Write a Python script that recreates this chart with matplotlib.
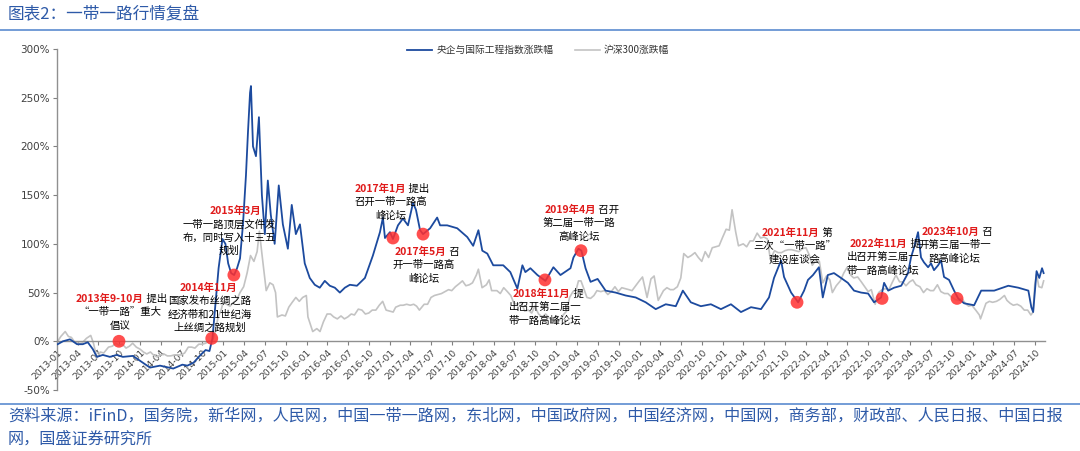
import matplotlib
matplotlib.use("Agg")
import matplotlib.pyplot as plt
import numpy as np
import pandas as pd

plt.rcParams['font.family'] = ['Noto Sans CJK SC', 'DejaVu Sans']

# ---------------- data ----------------
blue_dates = ['2013-01-04','2013-01-27','2013-02-27','2013-03-30','2013-04-24','2013-05-16','2013-06-07','2013-06-25',
 '2013-07-21','2013-08-21','2013-09-20','2013-10-17','2013-11-30','2013-12-31','2014-02-13','2014-03-29','2014-05-26',
 '2014-07-05','2014-07-27','2014-08-23','2014-09-23','2014-10-15','2014-11-01','2014-11-14','2014-11-28','2014-12-11',
 '2014-12-28','2015-01-10','2015-01-22','2015-02-04','2015-02-17','2015-03-02','2015-03-15','2015-03-28','2015-04-10',
 '2015-04-19','2015-04-28','2015-05-02','2015-05-11','2015-05-24','2015-06-06','2015-06-19','2015-07-02','2015-07-15',
 '2015-07-28','2015-08-14','2015-09-01','2015-09-19','2015-10-11','2015-10-28','2015-11-15','2015-12-03','2015-12-24',
 '2016-01-15','2016-02-06','2016-02-28','2016-03-21','2016-04-12','2016-05-04','2016-05-26','2016-06-17','2016-07-09',
 '2016-08-09','2016-09-13','2016-10-18','2016-11-09','2016-11-18','2016-12-01','2016-12-10','2017-01-01','2017-01-14',
 '2017-02-05','2017-02-27','2017-03-21','2017-04-12','2017-04-25','2017-05-13','2017-05-26','2017-06-26','2017-07-27',
 '2017-08-09','2017-09-09','2017-10-23','2017-12-06','2018-01-01','2018-01-24','2018-02-10','2018-03-04','2018-03-30',
 '2018-05-13','2018-06-13','2018-07-14','2018-08-05','2018-08-18','2018-09-09','2018-10-10','2018-11-14','2018-12-19',
 '2019-01-19','2019-03-04','2019-03-17','2019-04-08','2019-04-21','2019-05-09','2019-05-31','2019-07-01','2019-08-05',
 '2019-09-18','2019-11-01','2019-12-15','2020-01-28','2020-03-12','2020-04-25','2020-06-08','2020-07-09','2020-08-13',
 '2020-09-26','2020-11-09','2020-12-23','2021-02-05','2021-03-21','2021-05-04','2021-06-17','2021-07-22','2021-08-13',
 '2021-09-13','2021-09-26','2021-10-27','2021-11-27','2021-12-23','2022-01-09','2022-01-31','2022-02-26','2022-03-15',
 '2022-04-06','2022-05-03','2022-06-03','2022-07-03','2022-07-30','2022-08-30','2022-09-30','2022-10-26','2022-11-26',
 '2022-12-09','2022-12-27','2023-01-22','2023-02-22','2023-03-24','2023-04-06','2023-04-19','2023-05-07','2023-05-20',
 '2023-06-02','2023-06-20','2023-07-03','2023-07-16','2023-08-03','2023-08-16','2023-08-29','2023-09-20','2023-10-12',
 '2023-10-30','2023-11-25','2024-01-08','2024-02-08','2024-04-05','2024-06-06','2024-07-20','2024-09-02','2024-09-15',
 '2024-09-23','2024-10-08','2024-10-20','2024-11-01','2024-11-08']
blue_vals = [-3,0,2,-3,-3,-1,-8,-16,
 -14,-16,-14,-16,-15,-20,-27,-25,-28,
 -24,-25,-22,-14,-9,-10,3,40,75,
 105,100,80,70,68,75,85,120,170,
 215,255,262,200,190,230,150,110,165,
 130,100,160,120,95,140,110,120,80,
 65,58,55,62,57,55,50,55,58,
 57,65,88,105,112,127,106,112,105,
 119,126,119,142,135,114,110,116,127,
 119,119,116,107,98,114,93,90,78,
 78,71,54,78,71,75,68,62,76,
 68,75,86,95,93,75,61,64,52,
 50,47,45,40,33,38,36,52,40,
 36,38,33,38,30,35,33,45,65,
 83,66,50,40,52,63,68,76,45,
 68,70,65,60,52,50,49,40,45,
 60,52,55,57,70,86,96,112,86,
 81,76,80,73,78,83,66,63,52,
 44,39,37,52,52,57,55,52,35,
 30,72,65,75,70]

gray_dates = ['2013-01-04','2013-01-18','2013-02-06','2013-02-20','2013-03-05','2013-03-20','2013-04-05','2013-04-20',
 '2013-05-10','2013-05-29','2013-06-10','2013-06-25','2013-07-10','2013-07-25','2013-08-15','2013-09-01','2013-09-15',
 '2013-09-30','2013-10-15','2013-10-31','2013-11-15','2013-11-29','2013-12-15','2013-12-31','2014-01-15','2014-01-30',
 '2014-02-15','2014-02-28','2014-03-15','2014-03-31','2014-04-15','2014-04-30','2014-05-15','2014-05-30','2014-06-15',
 '2014-06-30','2014-07-15','2014-07-31','2014-08-15','2014-08-29','2014-09-15','2014-09-30','2014-10-15','2014-10-31',
 '2014-11-14','2014-11-28','2014-12-09','2014-12-22','2014-12-31','2015-01-15','2015-01-30','2015-02-15','2015-02-28',
 '2015-03-15','2015-03-31','2015-04-15','2015-04-30','2015-05-15','2015-05-29','2015-06-08','2015-06-19','2015-07-08',
 '2015-07-24','2015-08-07','2015-08-18','2015-08-26','2015-09-15','2015-09-30','2015-10-15','2015-10-30','2015-11-15',
 '2015-11-30','2015-12-15','2015-12-31','2016-01-07','2016-01-28','2016-02-15','2016-02-29','2016-03-15','2016-03-31',
 '2016-04-15','2016-04-29','2016-05-15','2016-05-31','2016-06-15','2016-06-30','2016-07-15','2016-07-29','2016-08-15',
 '2016-08-31','2016-09-15','2016-09-30','2016-10-15','2016-10-31','2016-11-15','2016-11-30','2016-12-15','2016-12-30',
 '2017-01-15','2017-01-26','2017-02-15','2017-02-28','2017-03-15','2017-03-31','2017-04-15','2017-04-28','2017-05-10',
 '2017-05-31','2017-06-15','2017-06-30','2017-07-15','2017-07-31','2017-08-15','2017-08-31','2017-09-15','2017-09-29',
 '2017-10-15','2017-10-31','2017-11-15','2017-11-30','2017-12-15','2017-12-29','2018-01-15','2018-01-24','2018-02-09',
 '2018-02-28','2018-03-12','2018-03-23','2018-04-15','2018-04-30','2018-05-15','2018-05-31','2018-06-15','2018-06-29',
 '2018-07-15','2018-07-31','2018-08-15','2018-08-31','2018-09-15','2018-09-28','2018-10-15','2018-10-31','2018-11-15',
 '2018-11-30','2018-12-15','2018-12-28','2019-01-04','2019-01-15','2019-01-31','2019-02-15','2019-02-28','2019-03-15',
 '2019-03-29','2019-04-08','2019-04-19','2019-04-30','2019-05-15','2019-05-31','2019-06-15','2019-06-28','2019-07-15',
 '2019-07-31','2019-08-15','2019-08-30','2019-09-15','2019-09-30','2019-10-15','2019-10-31','2019-11-15','2019-11-29',
 '2019-12-15','2019-12-31','2020-01-14','2020-02-03','2020-02-20','2020-03-05','2020-03-23','2020-04-15','2020-04-30',
 '2020-05-15','2020-05-29','2020-06-15','2020-06-30','2020-07-13','2020-07-31','2020-08-15','2020-08-31','2020-09-15',
 '2020-09-30','2020-10-15','2020-10-30','2020-11-15','2020-11-30','2020-12-15','2020-12-31','2021-01-15','2021-01-29',
 '2021-02-10','2021-02-26','2021-03-10','2021-03-31','2021-04-15','2021-04-30','2021-05-14','2021-05-31','2021-06-15',
 '2021-06-30','2021-07-15','2021-07-28','2021-08-15','2021-08-31','2021-09-15','2021-09-30','2021-10-15','2021-10-29',
 '2021-11-15','2021-11-30','2021-12-15','2021-12-31','2022-01-14','2022-01-28','2022-02-15','2022-02-28','2022-03-15',
 '2022-03-31','2022-04-15','2022-04-26','2022-05-13','2022-05-31','2022-06-15','2022-06-30','2022-07-15','2022-07-29',
 '2022-08-15','2022-08-31','2022-09-15','2022-09-30','2022-10-14','2022-10-31','2022-11-15','2022-11-30','2022-12-15',
 '2022-12-30','2023-01-13','2023-01-30','2023-02-15','2023-02-28','2023-03-15','2023-03-31','2023-04-14','2023-04-28',
 '2023-05-15','2023-05-31','2023-06-15','2023-06-30','2023-07-14','2023-07-31','2023-08-15','2023-08-31','2023-09-15',
 '2023-09-28','2023-10-16','2023-10-31','2023-11-15','2023-11-30','2023-12-15','2023-12-29','2024-01-15','2024-01-31',
 '2024-02-05','2024-02-20','2024-02-29','2024-03-15','2024-03-29','2024-04-15','2024-04-30','2024-05-20','2024-05-31',
 '2024-06-14','2024-06-28','2024-07-15','2024-07-31','2024-08-15','2024-08-30','2024-09-13','2024-09-23','2024-09-30',
 '2024-10-08','2024-10-18','2024-10-31','2024-11-08']
gray_vals = [0,5,10,5,4,-1,-2,-2,
 3,6,-2,-17,-11,-12,-6,-5,-2,
 -4,-3,-7,-5,-2,-6,-8,-11,-13,
 -11,-14,-16,-14,-13,-15,-15,-14,-14,
 -14,-12,-6,-6,-7,-3,-3,-2,0,
 0,12,25,32,40,38,36,40,42,
 50,56,70,88,82,92,113,90,52,
 60,58,50,25,27,26,35,40,45,
 41,45,47,25,10,13,10,20,28,
 28,25,23,26,23,25,28,27,33,
 32,28,29,32,32,37,41,32,31,
 30,35,37,37,38,37,38,36,32,
 38,38,45,47,48,49,51,53,52,
 56,59,62,57,58,60,68,74,55,
 58,63,52,52,49,55,51,47,39,
 38,40,31,32,29,36,28,25,28,
 24,22,19,18,22,27,31,45,51,
 53,62,62,55,45,44,47,52,51,
 52,48,51,56,51,55,54,53,52,
 57,62,66,45,64,67,42,52,55,
 53,53,56,65,90,86,88,91,86,
 82,92,86,96,97,98,107,115,114,
 135,112,98,100,97,103,103,111,106,
 107,105,84,93,91,91,93,94,94,
 93,92,95,96,89,78,84,82,60,
 67,63,50,57,62,70,76,68,65,
 66,61,56,51,53,38,50,53,54,
 53,60,68,61,61,57,61,63,58,
 56,50,54,52,52,58,51,49,49,
 46,43,42,44,39,36,37,32,27,
 23,33,39,41,40,41,43,47,42,
 39,37,38,36,32,32,27,30,58,
 69,56,55,62]

event_dates = ['2013-09-30','2014-11-11','2015-02-16','2017-01-14','2017-05-26','2018-11-12','2019-04-19',
               '2021-11-22','2022-11-30','2023-10-25']
event_vals = [0, 3, 68, 106, 110, 63, 93, 40, 44, 44]

series_names = ['央企与国际工程指数涨跌幅', '沪深300涨跌幅']
y_ticks = [-50, 0, 50, 100, 150, 200, 250, 300]
x_tick_labels = [f'{y}-{m:02d}' for y in range(2013, 2025) for m in (1, 4, 7, 10)]

title_text = '图表2：一带一路行情复盘'
source_line1 = '资料来源：iFinD，国务院，新华网，人民网，中国一带一路网，东北网，中国政府网，中国经济网，中国网，商务部，财政部、人民日报、中国日报'
source_line2 = '网，国盛证券研究所'

# annotations: (red part, black part of first line, other lines)
annotations = [
    ('2013年9-10月', ' 提出', ['“一带一路”重大', '倡议']),
    ('2014年11月', '', ['国家发布丝绸之路', '经济带和21世纪海', '上丝绸之路规划']),
    ('2015年3月', '', ['一带一路顶层文件发', '布，同时写入十三五', '规划']),
    ('2017年1月', ' 提出', ['召开一带一路高', '峰论坛']),
    ('2017年5月', ' 召', ['开一带一路高', '峰论坛']),
    ('2018年11月', ' 提', ['出召开第二届一', '带一路高峰论坛']),
    ('2019年4月', ' 召开', ['第二届一带一路', '高峰论坛']),
    ('2021年11月', ' 第', ['三次“一带一路”', '建设座谈会']),
    ('2022年11月', ' 提', ['出召开第三届一', '带一路高峰论坛']),
    ('2023年10月', ' 召', ['开第三届一带一', '路高峰论坛']),
]
# layout (pixel positions): first-line left x (or center if no black part), first line y, center x for other lines
ann_layout = [
    (76, 299, 120), (208, 288, 210), (235, 211, 229), (355, 189, 391), (395, 252, 424),
    (513, 294, 545), (545, 210, 579), (762, 233, 795), (850, 244, 883), (922, 232, 955),
]

# ---------------- figure ----------------
W, H = 1080, 451
fig = plt.figure(figsize=(W/100, H/100), dpi=100)
fig.patch.set_facecolor('white')

def fx(px):
    return px / W

def fy(py):
    return 1 - py / H

ax = fig.add_axes([fx(57), fy(390), fx(1045) - fx(57), fy(49) - fy(390)])

bd = pd.to_datetime(blue_dates)
gd = pd.to_datetime(gray_dates)
BLUE = '#1C4A9E'
GRAY = '#C3C3C3'
ax.plot(gd, gray_vals, color=GRAY, lw=1.2, zorder=2, label=series_names[1])
ax.plot(bd, blue_vals, color=BLUE, lw=1.3, zorder=3, label=series_names[0])
ax.scatter(pd.to_datetime(event_dates), event_vals, s=85, color='#FF3030', alpha=0.85,
           edgecolors='none', zorder=4)

ax.set_ylim(-50, 300)
ax.set_xlim(pd.Timestamp('2013-01-01'), pd.Timestamp('2024-11-14'))
ax.set_yticks(y_ticks)
ax.set_yticklabels([f'{v}%' for v in y_ticks])

ax.set_xticks(pd.to_datetime([s + '-01' for s in x_tick_labels]))
ax.set_xticklabels(x_tick_labels)
ax.tick_params(axis='x', length=3, color='#808080', direction='out', pad=2,
               labelsize=6.6, labelcolor='#404040')
ax.tick_params(axis='y', length=3, color='#808080', direction='out', pad=2,
               labelsize=7.5, labelcolor='#404040')

ax.spines['top'].set_visible(False)
ax.spines['right'].set_visible(False)
ax.spines['left'].set_color('#909090')
ax.spines['bottom'].set_color('#909090')
ax.spines['bottom'].set_position(('data', 0))
ax.spines['left'].set_linewidth(1.0)
ax.spines['bottom'].set_linewidth(1.0)
ax.set_facecolor('none')

# legend
leg = fig.legend(handles=[ax.lines[1], ax.lines[0]], labels=series_names, loc='center',
                 bbox_to_anchor=(fx(538), fy(50)), ncol=2, frameon=False, fontsize=7,
                 handlelength=2.6, columnspacing=2.2, handletextpad=0.4)
for t in leg.get_texts():
    t.set_color('#333333')

# title and source
fig.text(fx(8), fy(15), title_text, fontsize=12, color='#2E5AA8', ha='left', va='center')
fig.add_artist(plt.Line2D([0, 1], [fy(30), fy(30)], color='#5B8BD0', lw=1.2))
fig.add_artist(plt.Line2D([0, 1], [fy(404), fy(404)], color='#5B8BD0', lw=1.2))
fig.text(fx(8), fy(416), source_line1, fontsize=11.6, color='#2E5AA8', ha='left', va='center')
fig.text(fx(8), fy(439), source_line2, fontsize=11.6, color='#2E5AA8', ha='left', va='center')

# annotations
fig.canvas.draw()
renderer = fig.canvas.get_renderer()
RED = '#E01B1B'
FS = 7.5
LS = 13.3
for (red, black, rest), (x0, y0, xc) in zip(annotations, ann_layout):
    if black:
        t = fig.text(fx(x0), fy(y0), red, color=RED, fontsize=FS, fontweight='bold',
                     ha='left', va='center')
        bb = t.get_window_extent(renderer)
        fig.text(bb.x1 / W, fy(y0), black, color='black', fontsize=FS, ha='left', va='center')
    else:
        fig.text(fx(x0), fy(y0), red, color=RED, fontsize=FS, fontweight='bold',
                 ha='center', va='center')
    for i, line in enumerate(rest):
        fig.text(fx(xc), fy(y0 + LS * (i + 1)), line, color='black', fontsize=FS,
                 ha='center', va='center')

# style tick labels (after draw so the tick objects exist)
for lab in ax.get_xticklabels():
    lab.set_rotation(45)
    lab.set_rotation_mode('anchor')
    lab.set_horizontalalignment('right')
    lab.set_verticalalignment('top')
    lab.set_fontfamily('DejaVu Sans')
    lab.set_fontsize(6.6)
for lab in ax.get_yticklabels():
    lab.set_fontfamily('DejaVu Sans')
    lab.set_fontsize(7.5)

fig.savefig('out.png', dpi=100)
